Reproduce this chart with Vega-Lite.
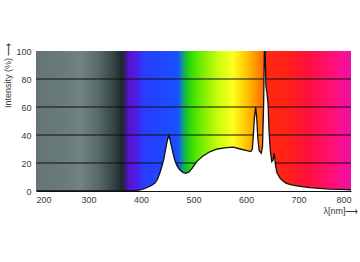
{
  "$schema": "https://vega.github.io/schema/vega-lite/v6.json",
  "width": 315,
  "height": 140,
  "autosize": {"type": "none"},
  "padding": {"left": 36, "top": 51, "right": 9, "bottom": 71},
  "background": "white",
  "config": {
    "view": {"stroke": null},
    "font": "Liberation Sans",
    "axis": {"labelFont": "Liberation Sans", "titleFont": "Liberation Sans", "labelColor": "#3a3a3a", "titleColor": "#3a3a3a", "labelFontSize": 9, "titleFontSize": 9, "titleFontWeight": "normal", "labelOverlap": false},
    "axisX": {"values": [200, 300, 400, 500, 600, 700, 800], "labelOverlap": false, "ticks": false, "grid": false, "domain": true, "domainColor": "#111", "domainWidth": 1.2, "labelPadding": 4, "titleAnchor": "end", "titleAlign": "right", "titleX": 322, "titleY": 19, "titleBaseline": "middle"},
    "axisY": {"values": [0, 20, 40, 60, 80, 100], "labelOverlap": false, "ticks": false, "grid": false, "domain": false, "labelPadding": 5, "titleAnchor": "end", "titleAlign": "right", "titleY": -9, "titlePadding": 3}
  },
  "datasets": {
    "bg": [{"x": 200, "x2": 800, "y": 0, "y2": 100}],
    "grid": [{"y": 20}, {"y": 40}, {"y": 60}, {"y": 80}],
    "spec": [
      {"x": 200, "y": 0}, {"x": 380, "y": 0}, {"x": 392, "y": 0.4}, {"x": 402, "y": 1.2},
      {"x": 412, "y": 2.5}, {"x": 420, "y": 4}, {"x": 426, "y": 5.5}, {"x": 431, "y": 8},
      {"x": 436, "y": 13}, {"x": 440, "y": 18}, {"x": 443, "y": 22}, {"x": 446, "y": 28},
      {"x": 449, "y": 34}, {"x": 451, "y": 37.5}, {"x": 453, "y": 39.3}, {"x": 455, "y": 37},
      {"x": 458, "y": 32}, {"x": 461, "y": 27}, {"x": 464, "y": 22.5}, {"x": 468, "y": 18.5},
      {"x": 473, "y": 15.5}, {"x": 479, "y": 13.5}, {"x": 485, "y": 12.6}, {"x": 491, "y": 13.5},
      {"x": 498, "y": 16.5}, {"x": 506, "y": 21}, {"x": 518, "y": 25}, {"x": 531, "y": 28},
      {"x": 545, "y": 30}, {"x": 563, "y": 31}, {"x": 576, "y": 31.3}, {"x": 589, "y": 30},
      {"x": 600, "y": 29}, {"x": 609, "y": 28.2}, {"x": 612, "y": 30}, {"x": 614, "y": 40},
      {"x": 616, "y": 52}, {"x": 618.5, "y": 60}, {"x": 620.5, "y": 52}, {"x": 622.5, "y": 38},
      {"x": 625, "y": 29}, {"x": 629, "y": 27}, {"x": 631.5, "y": 32}, {"x": 633.5, "y": 60},
      {"x": 635, "y": 100}, {"x": 636.5, "y": 100}, {"x": 638, "y": 75}, {"x": 640, "y": 70},
      {"x": 642, "y": 62}, {"x": 644, "y": 42}, {"x": 646.5, "y": 28}, {"x": 649, "y": 21},
      {"x": 651.5, "y": 22}, {"x": 654, "y": 27}, {"x": 656, "y": 19}, {"x": 659, "y": 13},
      {"x": 665, "y": 9}, {"x": 671, "y": 7}, {"x": 677, "y": 5.5}, {"x": 687, "y": 4.4},
      {"x": 697, "y": 3.6}, {"x": 710, "y": 2.9}, {"x": 722, "y": 2.4}, {"x": 740, "y": 1.9},
      {"x": 760, "y": 1.4}, {"x": 780, "y": 1.1}, {"x": 800, "y": 0.9}
    ]
  },
  "layer": [
    {
      "data": {"name": "bg"},
      "mark": {
        "type": "rect",
        "fill": {
          "gradient": "linear", "x1": 0, "y1": 0, "x2": 1, "y2": 0,
          "stops": [
            {"offset": 0, "color": "#647474"},
            {"offset": 0.1, "color": "#6a7c7c"},
            {"offset": 0.1417, "color": "#708282"},
            {"offset": 0.2, "color": "#566868"},
            {"offset": 0.25, "color": "#324242"},
            {"offset": 0.2717, "color": "#1c2a2a"},
            {"offset": 0.285, "color": "#3a1a80"},
            {"offset": 0.2967, "color": "#5a14d0"},
            {"offset": 0.32, "color": "#4a20e8"},
            {"offset": 0.3417, "color": "#2a3cff"},
            {"offset": 0.45, "color": "#1850ff"},
            {"offset": 0.4667, "color": "#10a080"},
            {"offset": 0.4833, "color": "#20d010"},
            {"offset": 0.5083, "color": "#50e800"},
            {"offset": 0.5417, "color": "#90f000"},
            {"offset": 0.5833, "color": "#d0ff10"},
            {"offset": 0.625, "color": "#ffff20"},
            {"offset": 0.6667, "color": "#ffc800"},
            {"offset": 0.7, "color": "#ff9000"},
            {"offset": 0.7233, "color": "#ff6800"},
            {"offset": 0.7267, "color": "#ff2a10"},
            {"offset": 0.8, "color": "#ff2018"},
            {"offset": 0.8667, "color": "#ff1040"},
            {"offset": 0.9333, "color": "#ff1070"},
            {"offset": 1, "color": "#f010a8"}
          ]
        }
      },
      "encoding": {
        "x": {"field": "x", "type": "quantitative", "title": "λ[nm]⟶", "scale": {"domain": [200, 800], "nice": false}},
        "x2": {"field": "x2"},
        "y": {"field": "y", "type": "quantitative", "title": "Intensity (%) ⟶", "scale": {"domain": [0, 100], "nice": false}},
        "y2": {"field": "y2"}
      }
    },
    {
      "data": {"name": "grid"},
      "mark": {"type": "rule", "color": "#111", "strokeWidth": 1},
      "encoding": {"y": {"field": "y", "type": "quantitative", "title": "Intensity (%) ⟶"}}
    },
    {
      "data": {"name": "spec"},
      "mark": {"type": "area", "color": "white", "clip": true},
      "encoding": {"x": {"field": "x", "type": "quantitative", "title": "λ[nm]⟶"}, "y": {"field": "y", "type": "quantitative", "title": "Intensity (%) ⟶"}}
    },
    {
      "data": {"name": "spec"},
      "mark": {"type": "line", "color": "#111", "strokeWidth": 1.3, "clip": true},
      "encoding": {"x": {"field": "x", "type": "quantitative", "title": "λ[nm]⟶"}, "y": {"field": "y", "type": "quantitative", "title": "Intensity (%) ⟶"}}
    }
  ]
}
